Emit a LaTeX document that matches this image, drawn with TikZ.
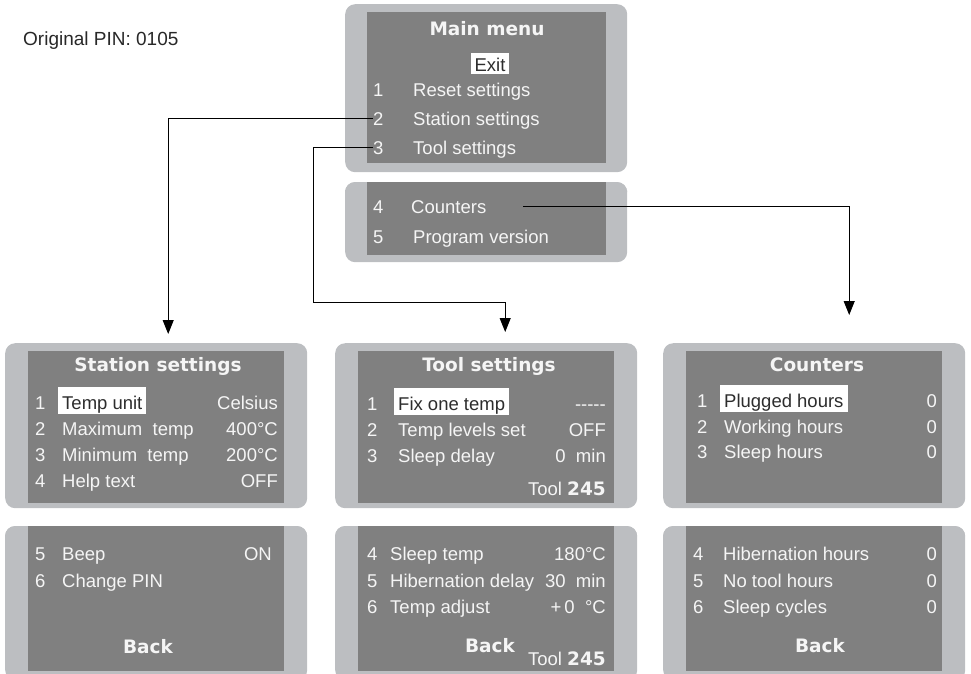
\documentclass[tikz,border=0pt]{standalone}
\usepackage{fontspec}
\setmainfont{Liberation Sans}
\newfontfamily\titlefont{DejaVu Sans}
\usetikzlibrary{arrows.meta,positioning}
\definecolor{bezel}{RGB}{188,190,193}
\definecolor{lcd}{RGB}{128,128,128}
\definecolor{lcdtext}{RGB}{245,245,245}
\definecolor{seltext}{RGB}{45,45,45}
\definecolor{pintext}{RGB}{40,40,40}

\begin{document}
\begin{tikzpicture}
	[ x=1pt, y=-1pt,
	  bezel/.style={ fill=bezel, draw=none, rounded corners=10pt, anchor=north west },
	  lcd/.style={ fill=lcd, draw=none, anchor=north west },
	  row/.style={ anchor=base west, inner sep=0pt, text=lcdtext,
	    font=\fontsize{18.5}{20}\selectfont },
	  val/.style={ row, anchor=base east },
	  head/.style={ anchor=base, inner sep=0pt, text=lcdtext,
	    font=\titlefont\bfseries\fontsize{18.5}{20}\selectfont },
	  sel/.style={ row, fill=white, text=seltext, inner xsep=4pt,
	    text height=22pt, text depth=5pt },
	  link/.style={ draw=black, line width=1pt, -{Triangle[width=11pt,length=14pt]} }
	]
	\useasboundingbox (0,0) rectangle (971,673);

	% main menu screens
	\node[bezel, minimum width=282pt, minimum height=168pt] (mm) at (345,4) {};
	\node[lcd, minimum width=239pt, minimum height=151pt] at (367,12) {};
	\node[bezel, minimum width=282pt, minimum height=80pt] (mm-low) at (345,182) {};
	\fill[bezel] (345,182) rectangle (627,200);
	\node[lcd, minimum width=239pt, minimum height=73pt] at (367,182) {};

	% sub menu screens
	\foreach \x/\n in {5/st,335/ts,663/ct}{
		\node[bezel, minimum width=302pt, minimum height=165pt] (\n) at (\x,343) {};
		\node[lcd, minimum width=256pt, minimum height=152pt] at (\x+23,351) {};
		\node[bezel, minimum width=302pt, minimum height=154pt] (\n-low) at (\x,526) {};
		\fill[bezel] (\x,526) rectangle ++(302,20);
		\node[lcd, minimum width=256pt, minimum height=145pt] at (\x+23,526) {};
	}

	\node[anchor=base west, inner sep=0pt, text=pintext, font=\fontsize{19}{21}\selectfont]
		(pin) at (23,45) {Original PIN: 0105};

	% main menu
	\node[head] (mm-title) at (487,35) {Main menu};
	\node[sel, anchor=base, text height=18pt, text depth=3pt] (mm-exit) at (490,71) {Exit};
	\foreach \i/\t/\y in {1/Reset settings/96,2/Station settings/125,3/Tool settings/154}{
		\node[row] (mm\i) at (373,\y) {\i};
		\node[row] (mm\i-text) at (413,\y) {\t};
	}
	\node[row] (mm4-num) at (373,213) {4};
	\node[row] (mm4) at (411,213) {Counters};
	\node[row] (mm5-num) at (373,243) {5};
	\node[row] (mm5) at (413,243) {Program version};

	% station settings
	\node[head] (st-title) at (158,371) {Station settings};
	\foreach \i/\y in {1/409,2/435,3/461,4/487,5/560,6/587}
		\node[row] (st\i) at (35,\y) {\i};
	\node[sel] (st-sel) at (58,409) {Temp unit};
	\node[row] at (62,435) {Maximum\ \ temp};
	\node[row] at (62,461) {Minimum\ \ temp};
	\node[row] at (62,487) {Help text};
	\node[val] at (278,409) {Celsius};
	\node[val] at (278,435) {400°C};
	\node[val] at (278,461) {200°C};
	\node[val] at (278,487) {OFF};
	\node[row] at (62,560) {Beep};
	\node[val] at (272,560) {ON};
	\node[row] at (62,587) {Change PIN};
	\node[head] (st-back) at (148,653) {Back};

	% tool settings
	\node[head] (ts-title) at (489,371) {Tool settings};
	\foreach \i/\y in {1/410,2/436,3/462,4/560,5/587,6/613}
		\node[row] (ts\i) at (367,\y) {\i};
	\node[sel] (ts-sel) at (394,410) {Fix one temp};
	\node[row] at (398,436) {Temp\ levels\ set};
	\node[row] at (398,462) {Sleep delay};
	\node[val] at (606,410) {-{}-{}-{}-{}-};
	\node[val] at (606,436) {OFF};
	\node[val] at (606,462) {0\ \ min};
	\node[val] at (606,495) {Tool {\titlefont\bfseries 245}};
	\node[row] at (390,560) {Sleep temp};
	\node[row] at (390,587) {Hibernation delay};
	\node[row] at (390,613) {Temp adjust};
	\node[val] at (606,560) {180°C};
	\node[val] at (606,587) {30\ \ min};
	\node[val] at (606,613) {+\,0\ \ °C};
	\node[head] (ts-back) at (490,652) {Back};
	\node[val] at (606,665) {Tool {\titlefont\bfseries 245}};

	% counters
	\node[head] (ct-title) at (817,371) {Counters};
	\foreach \i/\t/\y in {1/Plugged hours/407,2/Working hours/433,3/Sleep hours/458,
		4/Hibernation hours/560,5/No tool hours/587,6/Sleep cycles/613}{
		\node[val] (ct\i) at (937,\y) {0};
	}
	\foreach \i/\y in {1/407,2/433,3/458} \node[row] at (697,\y) {\i};
	\foreach \i/\y in {4/560,5/587,6/613} \node[row] at (693,\y) {\i};
	\node[sel] (ct-sel) at (720,407) {Plugged hours};
	\node[row] at (724,433) {Working hours};
	\node[row] at (724,458) {Sleep hours};
	\node[row] at (723,560) {Hibernation hours};
	\node[row] at (723,587) {No tool hours};
	\node[row] at (723,613) {Sleep cycles};
	\node[head] (ct-back) at (820,652) {Back};

	% links
	\coordinate (bend) at (313,302);
	\draw[link, shorten >=9pt] (mm2.west) -| ([xshift=12pt]st.north);
	\draw[link, shorten >=11pt] (mm3.west) -| (bend) -| ([xshift=19pt]ts.north);
	\draw[link, shorten <=37pt, shorten >=28pt] (mm4.east) -| ([xshift=35pt]ct.north);
\end{tikzpicture}
\end{document}
